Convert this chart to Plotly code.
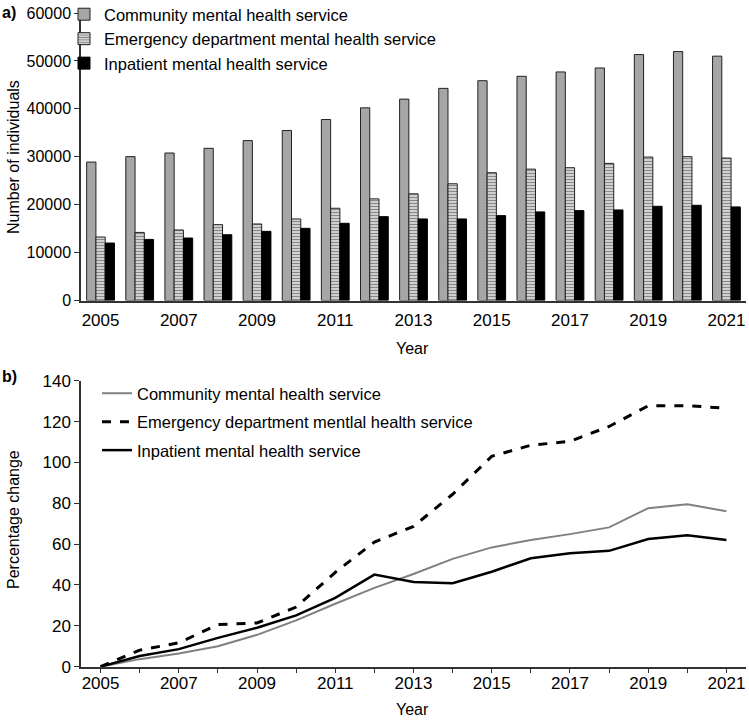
import plotly.graph_objects as go

years = list(range(2005, 2022))
community = [28890, 30020, 30780, 31760, 33370, 35470, 37770, 40210, 42030, 44270,
             45870, 46790, 47700, 48530, 51320, 51950, 50990]
emergency = [13250, 14210, 14720, 15830, 15970, 17020, 19250, 21210, 22260, 24360,
             26670, 27420, 27710, 28620, 29940, 30020, 29730]
inpatient = [11990, 12750, 13040, 13730, 14430, 15060, 16110, 17500, 17020, 17020,
             17710, 18490, 18760, 18900, 19660, 19870, 19530]

pct_community = [0, 3.7, 6.5, 10.0, 15.6, 22.7, 30.8, 38.6, 45.4, 52.8, 58.4, 62.0,
                 64.9, 68.2, 77.6, 79.5, 76.1]
pct_emergency = [0, 8.1, 11.7, 20.6, 21.4, 29.2, 46.2, 61.0, 68.7, 84.4, 103.0, 108.4,
                 110.3, 117.6, 127.7, 127.8, 126.5]
pct_inpatient = [0, 5.2, 8.6, 14.1, 19.1, 25.1, 33.7, 45.1, 41.5, 40.9, 46.5, 53.1,
                 55.5, 56.7, 62.5, 64.4, 62.0]

bar_names = ["Community mental health service",
             "Emergency department mental health service",
             "Inpatient mental health service"]
line_names = ["Community mental health service",
              "Emergency department mentlal health service",
              "Inpatient mental health service"]

FONT = "Liberation Sans, Arial, sans-serif"
AX = "#333333"

fig = go.Figure()
fig.add_trace(go.Bar(x=years, y=community, name=bar_names[0],
                     marker=dict(color="#a6a6a6", line=dict(color="#222", width=1)),
                     xaxis="x", yaxis="y", legend="legend"))
fig.add_trace(go.Bar(x=years, y=emergency, name=bar_names[1],
                     marker=dict(color="white", line=dict(color="#222", width=1),
                                 pattern=dict(shape="-", fgcolor="#111", bgcolor="white",
                                              size=3, solidity=0.6)),
                     xaxis="x", yaxis="y", legend="legend"))
fig.add_trace(go.Bar(x=years, y=inpatient, name=bar_names[2],
                     marker=dict(color="black", line=dict(color="black", width=1)),
                     xaxis="x", yaxis="y", legend="legend"))

fig.add_trace(go.Scatter(x=years, y=pct_community, name=line_names[0], mode="lines",
                         line=dict(color="#808080", width=2),
                         xaxis="x2", yaxis="y2", legend="legend2", legendgroup="a"))
fig.add_trace(go.Scatter(x=years, y=pct_emergency, name=line_names[1], mode="lines",
                         line=dict(color="black", width=3, dash="dash"),
                         xaxis="x2", yaxis="y2", legend="legend2", legendgroup="b"))
fig.add_trace(go.Scatter(x=years, y=pct_inpatient, name=line_names[2], mode="lines",
                         line=dict(color="black", width=2.5),
                         xaxis="x2", yaxis="y2", legend="legend2", legendgroup="c"))

xdom = [81 / 749, 746 / 749]
fig.update_layout(
    width=749, height=720,
    margin=dict(l=0, r=0, t=0, b=0, autoexpand=False),
    paper_bgcolor="white", plot_bgcolor="white",
    font=dict(family=FONT, size=16, color="black"),
    barmode="group", bargap=0.29, bargroupgap=0,
    showlegend=True,
    xaxis=dict(domain=xdom, anchor="y", range=[2004.5, 2021.5],
               tickvals=years[::2], ticks="", ticklabelstandoff=3,
               showline=True, linecolor=AX, linewidth=1.5, showgrid=False, zeroline=False,
               tickfont=dict(size=17)),
    yaxis=dict(domain=[1 - 300.5 / 720, 1 - 13 / 720], anchor="x", range=[0, 60000],
               tickvals=[0, 10000, 20000, 30000, 40000, 50000, 60000],
               ticktext=["0", "10000", "20000", "30000", "40000", "50000", "60000"],
               ticks="outside", ticklen=5, tickcolor=AX,
               showline=True, linecolor=AX, linewidth=1.5, showgrid=False, zeroline=False,
               tickfont=dict(size=16)),
    xaxis2=dict(domain=xdom, anchor="y2", range=[2004.5, 2021.5],
                tickvals=years, ticktext=[str(y) if (y - 2005) % 2 == 0 else "" for y in years],
                ticks="outside", ticklen=5, tickcolor=AX, ticklabelstandoff=-5,
                showline=True, linecolor=AX, linewidth=1.5, showgrid=False, zeroline=False,
                tickfont=dict(size=17)),
    yaxis2=dict(domain=[1 - 666.7 / 720, 1 - 380.7 / 720], anchor="x2", range=[0, 140],
                tickvals=[0, 20, 40, 60, 80, 100, 120, 140],
                ticks="outside", ticklen=5, tickcolor=AX,
                showline=True, linecolor=AX, linewidth=1.5, showgrid=False, zeroline=False,
                tickfont=dict(size=17)),
    legend=dict(x=64 / 749, y=1 + 3 / 720, xanchor="left", yanchor="top",
                bgcolor="rgba(0,0,0,0)", font=dict(size=16.5), traceorder="normal",
                itemwidth=30),
    legend2=dict(x=97 / 749, y=1 - 376 / 720, xanchor="left", yanchor="top",
                 bgcolor="rgba(0,0,0,0)", font=dict(size=16.5), traceorder="grouped",
                 tracegroupgap=4, itemwidth=30),
    annotations=[
        dict(text="<b>a)</b>", x=0, y=1 - 12 / 720, xref="paper", yref="paper",
             xanchor="left", yanchor="middle", showarrow=False, font=dict(size=16)),
        dict(text="<b>b)</b>", x=0, y=1 - 376 / 720, xref="paper", yref="paper",
             xanchor="left", yanchor="middle", showarrow=False, font=dict(size=16)),
        dict(text="Number of individuals", x=13 / 749, y=1 - 157 / 720, xref="paper",
             yref="paper", textangle=-90, xanchor="center", yanchor="middle",
             showarrow=False, font=dict(size=16)),
        dict(text="Percentage change", x=13 / 749, y=1 - 520 / 720, xref="paper",
             yref="paper", textangle=-90, xanchor="center", yanchor="middle",
             showarrow=False, font=dict(size=16)),
        dict(text="Year", x=413 / 749, y=1 - 348 / 720, xref="paper", yref="paper",
             xanchor="center", yanchor="middle", showarrow=False, font=dict(size=16)),
        dict(text="Year", x=413 / 749, y=1 - 709 / 720, xref="paper", yref="paper",
             xanchor="center", yanchor="middle", showarrow=False, font=dict(size=16)),
    ],
)

fig.write_html("out.html", config={"displayModeBar": False},
               post_script="document.body.style.margin='0';document.body.style.padding='0';")
